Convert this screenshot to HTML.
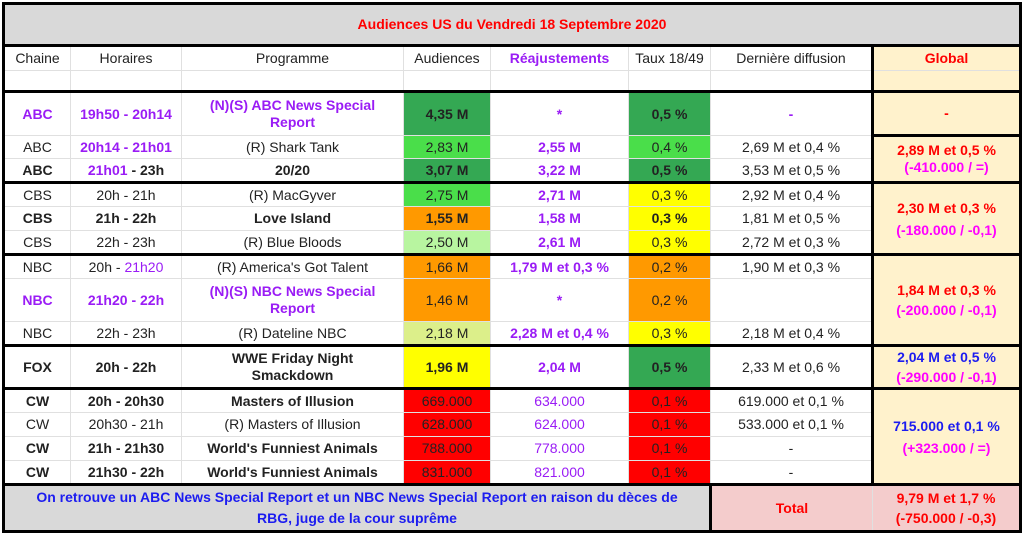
<!DOCTYPE html>
<html><head><meta charset="utf-8"><style>
body{margin:0;background:#fff;width:1024px;height:534px;overflow:hidden}
table{position:absolute;left:2px;top:2px;border-collapse:collapse;table-layout:fixed;font-family:"Liberation Sans",Arial,sans-serif;font-size:14px;color:#222;border:3px solid #000}
td{border:1px solid #e0e0e0;text-align:center;vertical-align:middle;padding:0 2px;line-height:17px;overflow:hidden;white-space:nowrap}
.w{white-space:normal}
.b{font-weight:bold}
.p{color:#9a1cf5}
.r{color:#f00}
.m{color:#f0f}
.bl{color:#1c1cf0}
.dg{background:#34a853}
.lg{background:#4ade4a}
.pg{background:#b8f5a0}
.yg{background:#dcef8a}
.or{background:#ff9900}
.ye{background:#ffff00}
.rd{background:#ff0000}
.gl{background:#fff2cc;border-left:3px solid #000;border-right:3px solid #000}
.tt td{border-top:3px solid #000}
</style></head><body>
<table>
<colgroup><col style="width:67px"><col style="width:111px"><col style="width:222px"><col style="width:87px"><col style="width:138px"><col style="width:82px"><col style="width:162px"><col style="width:148px"></colgroup>
<tr style="height:42px"><td colspan="8" class="b r" style="background:#d9d9d9;border-bottom:3px solid #000">Audiences US du Vendredi 18 Septembre 2020</td></tr>
<tr style="height:25px"><td>Chaine</td><td>Horaires</td><td>Programme</td><td>Audiences</td><td class="b p">Réajustements</td><td>Taux 18/49</td><td>Dernière diffusion</td><td class="gl b r">Global</td></tr>
<tr style="height:21px"><td></td><td></td><td></td><td></td><td></td><td></td><td></td><td class="gl"></td></tr>
<tr style="height:44px" class="tt"><td class="b p">ABC</td><td class="b p">19h50 - 20h14</td><td class="b p">(N)(S) ABC News Special<br>Report</td><td class="b dg">4,35 M</td><td class="b p">*</td><td class="b dg">0,5 %</td><td class="b p">-</td><td class="gl b r">-</td></tr>
<tr style="height:23px"><td>ABC</td><td class="b p">20h14 - 21h01</td><td>(R) Shark Tank</td><td class="lg">2,83 M</td><td class="b p">2,55 M</td><td class="lg">0,4 %</td><td>2,69 M et 0,4 %</td><td rowspan="2" class="gl b" style="border-top:3px solid #000"><span class="r">2,89 M et 0,5 %</span><br><span class="m">(-410.000 / =)</span></td></tr>
<tr style="height:24px"><td class="b">ABC</td><td class="b"><span class="p">21h01</span> - 23h</td><td class="b">20/20</td><td class="b dg">3,07 M</td><td class="b p">3,22 M</td><td class="b dg">0,5 %</td><td>3,53 M et 0,5 %</td></tr>
<tr style="height:24px" class="tt"><td>CBS</td><td>20h - 21h</td><td>(R) MacGyver</td><td class="lg">2,75 M</td><td class="b p">2,71 M</td><td class="ye">0,3 %</td><td>2,92 M et 0,4 %</td><td rowspan="3" class="gl b" style="line-height:22px"><span class="r">2,30 M et 0,3 %</span><br><span class="m">(-180.000 / -0,1)</span></td></tr>
<tr style="height:24px"><td class="b">CBS</td><td class="b">21h - 22h</td><td class="b">Love Island</td><td class="b or">1,55 M</td><td class="b p">1,58 M</td><td class="b ye">0,3 %</td><td>1,81 M et 0,5 %</td></tr>
<tr style="height:24px"><td>CBS</td><td>22h - 23h</td><td>(R) Blue Bloods</td><td class="pg">2,50 M</td><td class="b p">2,61 M</td><td class="ye">0,3 %</td><td>2,72 M et 0,3 %</td></tr>
<tr style="height:24px" class="tt"><td>NBC</td><td>20h - <span class="p">21h20</span></td><td>(R) America's Got Talent</td><td class="or">1,66 M</td><td class="b p">1,79 M et 0,3 %</td><td class="or">0,2 %</td><td>1,90 M et 0,3 %</td><td rowspan="3" class="gl b" style="line-height:20px"><span class="r">1,84 M et 0,3 %</span><br><span class="m">(-200.000 / -0,1)</span></td></tr>
<tr style="height:43px"><td class="b p">NBC</td><td class="b p">21h20 - 22h</td><td class="b p">(N)(S) NBC News Special<br>Report</td><td class="or">1,46 M</td><td class="b p">*</td><td class="or">0,2 %</td><td></td></tr>
<tr style="height:24px"><td>NBC</td><td>22h - 23h</td><td>(R) Dateline NBC</td><td class="yg">2,18 M</td><td class="b p">2,28 M et 0,4 %</td><td class="ye">0,3 %</td><td>2,18 M et 0,4 %</td></tr>
<tr style="height:41px" class="tt"><td class="b">FOX</td><td class="b">20h - 22h</td><td class="b">WWE Friday Night<br>Smackdown</td><td class="b ye">1,96 M</td><td class="b p">2,04 M</td><td class="b dg">0,5 %</td><td>2,33 M et 0,6 %</td><td class="gl b" style="line-height:20px"><span class="bl">2,04 M et 0,5 %</span><br><span class="m">(-290.000 / -0,1)</span></td></tr>
<tr style="height:24px" class="tt"><td class="b">CW</td><td class="b">20h - 20h30</td><td class="b">Masters of Illusion</td><td class="rd">669.000</td><td class="p">634.000</td><td class="rd">0,1 %</td><td>619.000 et 0,1 %</td><td rowspan="4" class="gl b" style="line-height:22px"><span class="bl">715.000 et 0,1 %</span><br><span class="m">(+323.000 / =)</span></td></tr>
<tr style="height:24px"><td>CW</td><td>20h30 - 21h</td><td>(R) Masters of Illusion</td><td class="rd">628.000</td><td class="p">624.000</td><td class="rd">0,1 %</td><td>533.000 et 0,1 %</td></tr>
<tr style="height:24px"><td class="b">CW</td><td class="b">21h - 21h30</td><td class="b">World's Funniest Animals</td><td class="rd">788.000</td><td class="p">778.000</td><td class="rd">0,1 %</td><td>-</td></tr>
<tr style="height:24px"><td class="b">CW</td><td class="b">21h30 - 22h</td><td class="b">World's Funniest Animals</td><td class="rd">831.000</td><td class="p">821.000</td><td class="rd">0,1 %</td><td>-</td></tr>
<tr style="height:47px" class="tt"><td colspan="6" class="b bl" style="background:#d9d9d9;line-height:21px;border-right:3px solid #000">On retrouve un ABC News Special Report et un NBC News Special Report en raison du dèces de<br>RBG, juge de la cour suprême</td><td class="b r" style="background:#f4cccc">Total</td><td class="b r" style="background:#f4cccc;line-height:20px">9,79 M et 1,7 %<br>(-750.000 / -0,3)</td></tr>
</table>
</body></html>
